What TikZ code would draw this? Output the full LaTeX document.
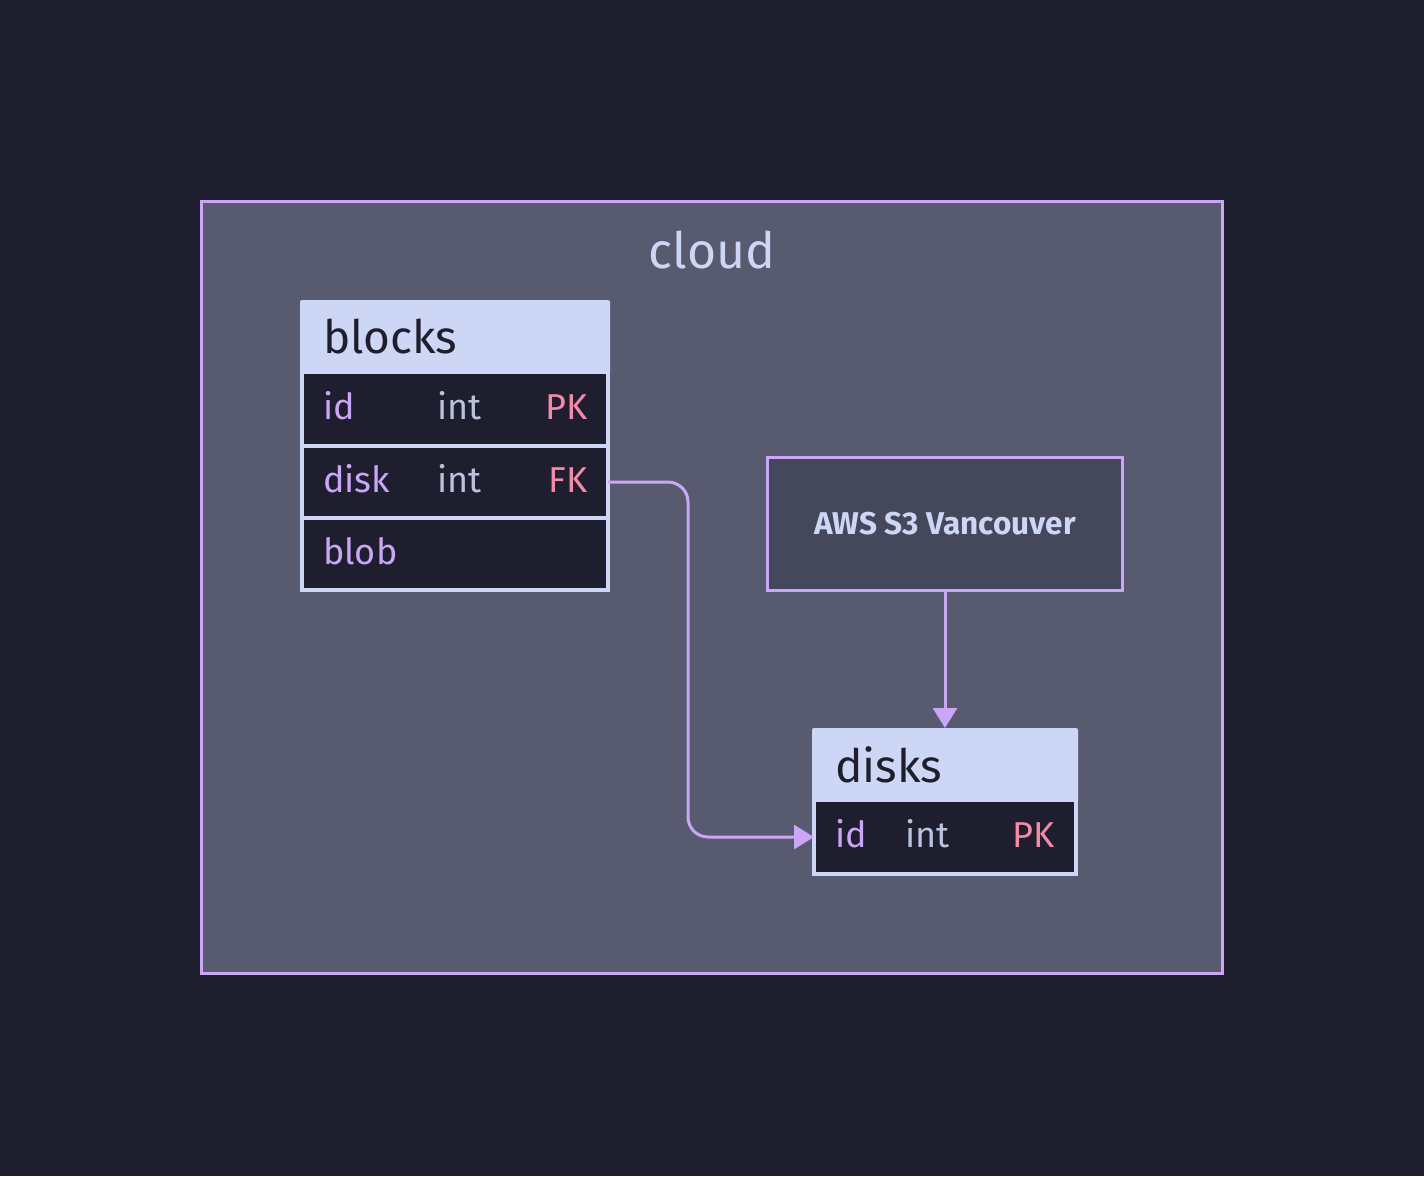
\documentclass[tikz,border=0pt]{standalone}
\usepackage{fontspec}
\setmainfont{Fira Sans}
\usetikzlibrary{arrows.meta}
\definecolor{base}{HTML}{1E1E2E}
\definecolor{surfacetwo}{HTML}{585B70}
\definecolor{surfaceone}{HTML}{45475A}
\definecolor{mauve}{HTML}{CBA6F7}
\definecolor{lavtext}{HTML}{CDD6F4}
\definecolor{subtext}{HTML}{BAC2DE}
\definecolor{keyred}{HTML}{F38BA8}
\tikzset{
    tblhead/.style={fill=lavtext, rounded corners=2pt, inner sep=0pt, outer sep=0pt, anchor=north west},
    tblrow/.style={fill=base, draw=lavtext, line width=4pt, inner sep=0pt, outer sep=0pt, anchor=north west},
    headtxt/.style={text=base, font=\fontsize{46}{50}\selectfont, anchor=base west, inner sep=0pt},
    coltxt/.style={text=mauve, font=\fontsize{36}{40}\selectfont, anchor=base west, inner sep=0pt},
    typetxt/.style={text=subtext, font=\fontsize{36}{40}\selectfont, anchor=base west, inner sep=0pt},
    keytxt/.style={text=keyred, font=\fontsize{36}{40}\selectfont, anchor=base east, inner sep=0pt},
    link/.style={mauve, line width=3pt, -{Triangle[length=20pt,width=24pt]}}
}
\begin{document}
\begin{tikzpicture}[x=1pt,y=-1pt]
    \useasboundingbox (0,0) rectangle (1424,1176);
    \fill[base] (0,0) rectangle (1424,1176);
    % container
    \node[draw=mauve, fill=surfacetwo, line width=3pt, inner sep=0pt, outer sep=0pt, anchor=north west,
          minimum width=1021pt, minimum height=772pt] (cloud) at (201.5,201.5) {};
    \node[text=lavtext, font=\fontsize{50}{54}\selectfont, anchor=base, inner sep=0pt] (cloudLabel) at (712,268) {cloud};
    % blocks table
    \node[tblhead, minimum width=310pt, minimum height=74pt] (blocksHead) at (300,300) {};
    \node[tblrow, minimum width=306pt, minimum height=74pt] (blocksId) at (302,372) {};
    \node[tblrow, minimum width=306pt, minimum height=72pt] (blocksDisk) at (302,446) {};
    \node[tblrow, minimum width=306pt, minimum height=72pt] (blocksBlob) at (302,518) {};
    \node[headtxt] (blocksName) at (323,353) {blocks};
    \node[coltxt] (blocksIdName) at (323,419) {id};
    \node[typetxt] (blocksIdType) at (437,419) {int};
    \node[keytxt] (blocksIdKey) at (588,419) {PK};
    \node[coltxt] (blocksDiskName) at (323,492) {disk};
    \node[typetxt] (blocksDiskType) at (437,492) {int};
    \node[keytxt] (blocksDiskKey) at (588,492) {FK};
    \node[coltxt] (blocksBlobName) at (323,564) {blob};
    % aws
    \node[draw=mauve, fill=surfaceone, line width=3pt, inner sep=0pt, outer sep=0pt, anchor=north west,
          minimum width=355pt, minimum height=133pt] (aws) at (767.5,457.5) {};
    \node[text=lavtext, font=\bfseries\fontsize{31.5}{34}\selectfont, inner sep=0pt] (awsLabel) at (aws.center) {AWS S3 Vancouver};
    % disks table
    \node[tblhead, minimum width=266pt, minimum height=74pt] (disksHead) at (812,728) {};
    \node[tblrow, minimum width=262pt, minimum height=74pt] (disksId) at (814,800) {};
    \node[headtxt] (disksName) at (835,782) {disks};
    \node[coltxt] (disksIdName) at (835,847) {id};
    \node[typetxt] (disksIdType) at (905,847) {int};
    \node[keytxt] (disksIdKey) at (1055,847) {PK};
    % links
    \draw[link] (aws.south) -- (disksHead.north);
    \draw[link, rounded corners=20pt] (blocksDisk.east) -- ++(80,0) |- (disksId.west);
\end{tikzpicture}
\end{document}
